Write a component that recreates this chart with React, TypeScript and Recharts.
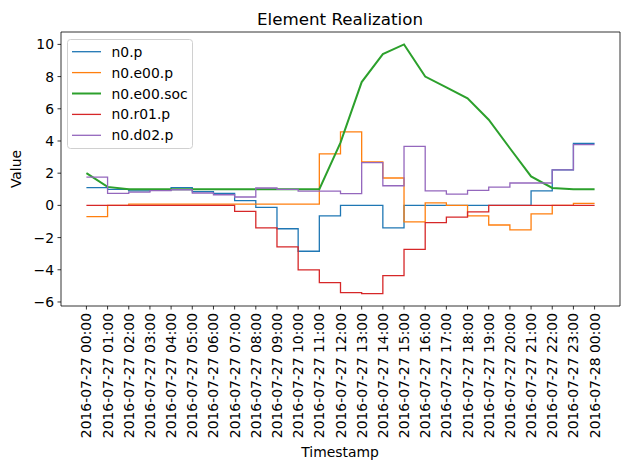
import React from "react";
import {
  LineChart,
  Line,
  XAxis,
  YAxis,
  ReferenceArea,
  Customized,
} from "recharts";

// hourly samples, 2016-07-27 00:00 .. 2016-07-28 00:00
const hours = [0, 1, 2, 3, 4, 5, 6, 7, 8, 9, 10, 11, 12, 13, 14, 15, 16, 17, 18, 19, 20, 21, 22, 23, 24];

const tickLabels = [
  "2016-07-27 00:00", "2016-07-27 01:00", "2016-07-27 02:00", "2016-07-27 03:00",
  "2016-07-27 04:00", "2016-07-27 05:00", "2016-07-27 06:00", "2016-07-27 07:00",
  "2016-07-27 08:00", "2016-07-27 09:00", "2016-07-27 10:00", "2016-07-27 11:00",
  "2016-07-27 12:00", "2016-07-27 13:00", "2016-07-27 14:00", "2016-07-27 15:00",
  "2016-07-27 16:00", "2016-07-27 17:00", "2016-07-27 18:00", "2016-07-27 19:00",
  "2016-07-27 20:00", "2016-07-27 21:00", "2016-07-27 22:00", "2016-07-27 23:00",
  "2016-07-28 00:00",
];

const n0P = [1.1, 1.0, 0.9, 0.95, 1.1, 0.85, 0.75, 0.3, -0.12, -1.45, -2.85, -0.65, 0, 0, -1.4, 0, 0, 0, 0, 0, 0, 0.9, 2.2, 3.85, 3.85];
const n0E00P = [-0.7, 0, 0.08, 0.08, 0.08, 0.08, 0.08, 0.08, 0.08, 0.08, 0.08, 3.2, 4.56, 2.7, 1.7, -1.03, 0.15, 0, -0.65, -1.22, -1.52, -0.53, 0, 0.13, 0.13];
const n0E00Soc = [2.0, 1.15, 1.0, 1.0, 1.0, 1.0, 1.0, 1.0, 1.0, 1.0, 1.0, 1.0, 3.9, 7.66, 9.4, 10.0, 8.0, 7.33, 6.65, 5.32, 3.55, 1.8, 1.08, 1.0, 1.0];
const n0R01P = [0, 0, 0, 0, 0, 0, 0, -0.37, -1.4, -2.58, -4.0, -4.8, -5.42, -5.48, -4.36, -2.73, -1.07, -0.73, -0.4, 0, 0, 0, 0, 0, 0];
const n0D02P = [1.76, 0.75, 0.82, 0.92, 0.97, 0.77, 0.66, 0.52, 1.08, 1.0, 0.88, 0.88, 0.73, 2.65, 1.22, 3.66, 0.9, 0.7, 0.93, 1.14, 1.39, 1.39, 2.2, 3.77, 3.77];

const yTicks = [-6, -4, -2, 0, 2, 4, 6, 8, 10];

const series = [
  { key: "n0.p", values: n0P, color: "#1f77b4", width: 1.3, step: true },
  { key: "n0.e00.p", values: n0E00P, color: "#ff7f0e", width: 1.3, step: true },
  { key: "n0.e00.soc", values: n0E00Soc, color: "#2ca02c", width: 2, step: false },
  { key: "n0.r01.p", values: n0R01P, color: "#d62728", width: 1.3, step: true },
  { key: "n0.d02.p", values: n0D02P, color: "#9467bd", width: 1.3, step: true },
];

const rows = hours.map((h, i) => {
  const row: Record<string, number> = { h };
  series.forEach((s) => (row[s.key] = s.values[i]));
  return row;
});

const FONT = "DejaVu Sans, sans-serif";
const X_DOMAIN: [number, number] = [-1.2, 25.2];
const Y_DOMAIN: [number, number] = [-6.25, 10.77];

const XTick = (props: any) => {
  const { x, y, payload } = props;
  return (
    <text
      x={x}
      y={y}
      transform={`rotate(-90, ${x}, ${y})`}
      textAnchor="end"
      dominantBaseline="central"
      fontSize={13.9}
      fontFamily={FONT}
      fill="#000"
    >
      {tickLabels[payload.value]}
    </text>
  );
};

const YTick = (props: any) => {
  const { x, y, payload } = props;
  const v = payload.value as number;
  return (
    <text
      x={x}
      y={y}
      textAnchor="end"
      dominantBaseline="central"
      fontSize={13.9}
      fontFamily={FONT}
      fill="#000"
    >
      {v < 0 ? `\u2212${Math.abs(v)}` : `${v}`}
    </text>
  );
};

const Decorations = () => (
  <g fontFamily={FONT} fill="#000">
    <text x={340} y={25} textAnchor="middle" fontSize={16.7}>
      Element Realization
    </text>
    <text x={340} y={457} textAnchor="middle" fontSize={13.9}>
      Timestamp
    </text>
    <text
      x={16}
      y={169}
      textAnchor="middle"
      dominantBaseline="central"
      fontSize={13.9}
      transform="rotate(-90, 16, 169)"
    >
      Value
    </text>
    <g transform="translate(67.5, 39.5)">
      <rect
        width={125}
        height={109}
        rx={3}
        fill="#fff"
        fillOpacity={0.8}
        stroke="#d0d0d0"
        strokeWidth={1}
      />
      {series.map((s, i) => (
        <g key={s.key} transform={`translate(0, ${12.2 + i * 20.9})`}>
          <line x1={4.5} x2={33.5} y1={0} y2={0} stroke={s.color} strokeWidth={s.width} />
          <text x={44} y={0} dominantBaseline="central" fontSize={13.9}>
            {s.key}
          </text>
        </g>
      ))}
    </g>
  </g>
);

export default function App() {
  return (
    <div style={{ position: "absolute", left: 0, top: 0, background: "#fff" }}>
      <LineChart
        width={630}
        height={470}
        data={rows}
        margin={{ top: 32, right: 10, bottom: 0, left: 0 }}
      >
        <XAxis
          dataKey="h"
          type="number"
          domain={X_DOMAIN}
          ticks={hours}
          interval={0}
          allowDataOverflow
          height={164}
          axisLine={false}
          tickLine={{ stroke: "#000", strokeWidth: 0.8 }}
          tickSize={3.5}
          tickMargin={3.5}
          tick={<XTick />}
        />
        <YAxis
          type="number"
          domain={Y_DOMAIN}
          ticks={yTicks}
          interval={0}
          allowDataOverflow
          width={61}
          axisLine={false}
          tickLine={{ stroke: "#000", strokeWidth: 0.8 }}
          tickSize={3.5}
          tickMargin={3.5}
          tick={<YTick />}
        />
        {series.map((s) => (
          <Line
            key={s.key}
            dataKey={s.key}
            type={s.step ? "stepAfter" : "linear"}
            stroke={s.color}
            strokeWidth={s.width}
            dot={false}
            activeDot={false}
            isAnimationActive={false}
          />
        ))}
        <ReferenceArea
          x1={X_DOMAIN[0]}
          x2={X_DOMAIN[1]}
          y1={Y_DOMAIN[0]}
          y2={Y_DOMAIN[1]}
          fill="none"
          stroke="#000"
          strokeWidth={0.8}
          ifOverflow="visible"
        />
        <Customized component={Decorations} />
      </LineChart>
    </div>
  );
}
